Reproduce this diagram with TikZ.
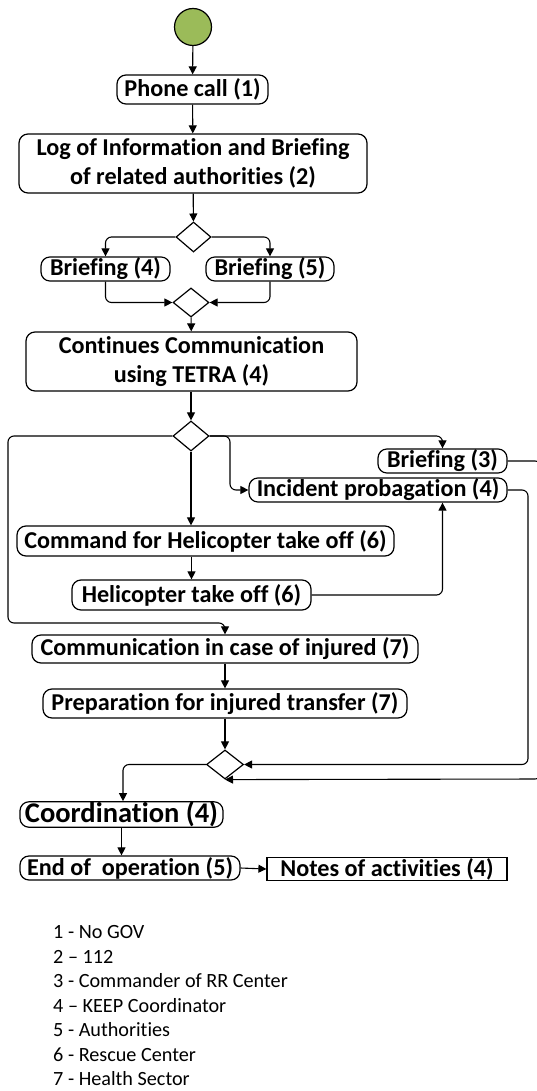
\documentclass[tikz,border=0pt]{standalone}
\usepackage{fontspec}
\setmainfont{Carlito}[Ligatures=NoCommon]
\usetikzlibrary{shapes.geometric,arrows.meta}

\begin{document}
\begin{tikzpicture}[
    x=1pt, y=-1pt,
    act/.style={rectangle, rounded corners=9pt, draw, line width=1.2pt, inner sep=1pt, align=center,
        font=\fontsize{24.2}{29}\selectfont\bfseries},
    record/.style={rectangle, draw, line width=1.2pt, inner sep=1pt, align=center,
        font=\fontsize{24.2}{29}\selectfont\bfseries},
    branch/.style={diamond, draw, line width=1.2pt, inner sep=0pt},
    flow/.style={-{Triangle[length=8pt,width=8pt]}, line width=1.1pt, rounded corners=6pt},
    legend/.style={anchor=west, inner sep=0pt, font=\fontsize{20.2}{22}\selectfont}
]
    \useasboundingbox (0,0) rectangle (537,1091);

    % Start
    \node[circle, draw, line width=1.2pt, fill={rgb,255:red,155;green,187;blue,89}, minimum size=37pt, inner sep=0pt] (start) at (193,27) {};

    % First part
    \node[act, minimum width=151pt, minimum height=29pt] (phone) at (192.5,89.5) {Phone call (1)};
    \node[act, minimum width=348pt, minimum height=59pt] (log) at (193,163.5) {Log of Information and Briefing\\of related authorities (2)};
    \node[branch, minimum width=35pt, minimum height=30pt] (split1) at (193.5,237) {};
    \node[act, minimum width=129pt, minimum height=24pt] (brief4) at (105.5,269) {Briefing (4)};
    \node[act, minimum width=128pt, minimum height=24pt] (brief5) at (270,269) {Briefing (5)};
    \node[branch, minimum width=36pt, minimum height=29pt] (join1) at (191,302.5) {};
    \node[act, minimum width=331pt, minimum height=59pt] (tetra) at (191.5,361.5) {Continues Communication\\using TETRA (4)};

    % Parallel part
    \node[branch, minimum width=36pt, minimum height=30pt] (split2) at (191,436) {};
    \node[act, minimum width=129pt, minimum height=24pt] (brief3) at (442.5,461) {Briefing (3)};
    \node[act, minimum width=258pt, minimum height=24pt] (incident) at (378,490) {Incident probagation (4)};
    \node[act, minimum width=377pt, minimum height=30pt] (command) at (205.5,541) {Command for Helicopter take off (6)};
    \node[act, minimum width=239pt, minimum height=30pt] (takeoff) at (191.5,595) {Helicopter take off (6)};
    \node[act, minimum width=386pt, minimum height=28pt] (injured) at (225,649) {Communication in case of injured (7)};
    \node[act, minimum width=364pt, minimum height=29pt] (transfer) at (225,703.5) {Preparation for injured transfer (7)};
    \node[branch, minimum width=37pt, minimum height=29pt] (join2) at (225,764.5) {};

    % Last part
    \node[act, minimum width=203pt, minimum height=25pt, inner ysep=0pt, font=\fontsize{28.5}{29}\selectfont\bfseries] (coord) at (121.5,814.5) {Coordination (4)};
    \node[act, minimum width=220pt, minimum height=24pt] (end) at (130,868) {End of~~operation (5)};
    \node[record, minimum width=240pt, minimum height=22pt] (notes) at (387,869) {Notes of activities (4)};

    % Bends
    \coordinate (lbend) at (8,623);
    \coordinate (ibend) at (230,490);
    \coordinate (rbend) at (528,764.5);
    \coordinate (redge) at (541,779);

    % Connectors
    \draw[flow] (start) -- (phone);
    \draw[flow] (phone) -- (log);
    \draw[flow] (log) -- (split1);
    \draw[flow] (split1.west) -| (brief4.north);
    \draw[flow] (split1.east) -| (brief5.north);
    \draw[flow] (brief4.south) |- (join1.west);
    \draw[flow] (brief5.south) |- (join1.east);
    \draw[flow] (join1) -- (tetra);
    \draw[flow] (tetra.south -| split2.north) -- (split2.north);
    \draw[flow] (split2.east) -| (brief3.north);
    \draw[flow] (split2.east) -| (ibend) -- (incident.west);
    \draw[flow] (split2.south) -- (split2.south |- command.north);
    \draw[flow] (takeoff.north |- command.south) -- (takeoff.north);
    \draw[flow] (takeoff.east) -| (incident.south -| brief3.north);
    \draw[flow] (split2.west) -| (lbend) -| (injured.north);
    \draw[flow] (injured) -- (transfer);
    \draw[flow] (transfer.south -| join2.north) -- (join2.north);
    \draw[flow] (incident.east) -| (rbend) -- (join2.east);
    \draw[flow] (brief3.east) -| (redge) -- (join2.south);
    \draw[flow] (join2.west) -| (coord.north -| 123,0);
    \draw[flow] (coord.south) -- (coord.south |- end.north);
    \draw[flow] (end.east) -- (notes.west);

    % Legend
    \node[legend] (leg1) at (53,932) {1 - No GOV};
    \node[legend] (leg2) at (53,956.5) {2 – 112};
    \node[legend] (leg3) at (53,981) {3 - Commander of RR Center};
    \node[legend] (leg4) at (53,1005.5) {4 – KEEP Coordinator};
    \node[legend] (leg5) at (53,1030) {5 - Authorities};
    \node[legend] (leg6) at (53,1054.5) {6 - Rescue Center};
    \node[legend] (leg7) at (53,1079) {7 - Health Sector};
\end{tikzpicture}
\end{document}
